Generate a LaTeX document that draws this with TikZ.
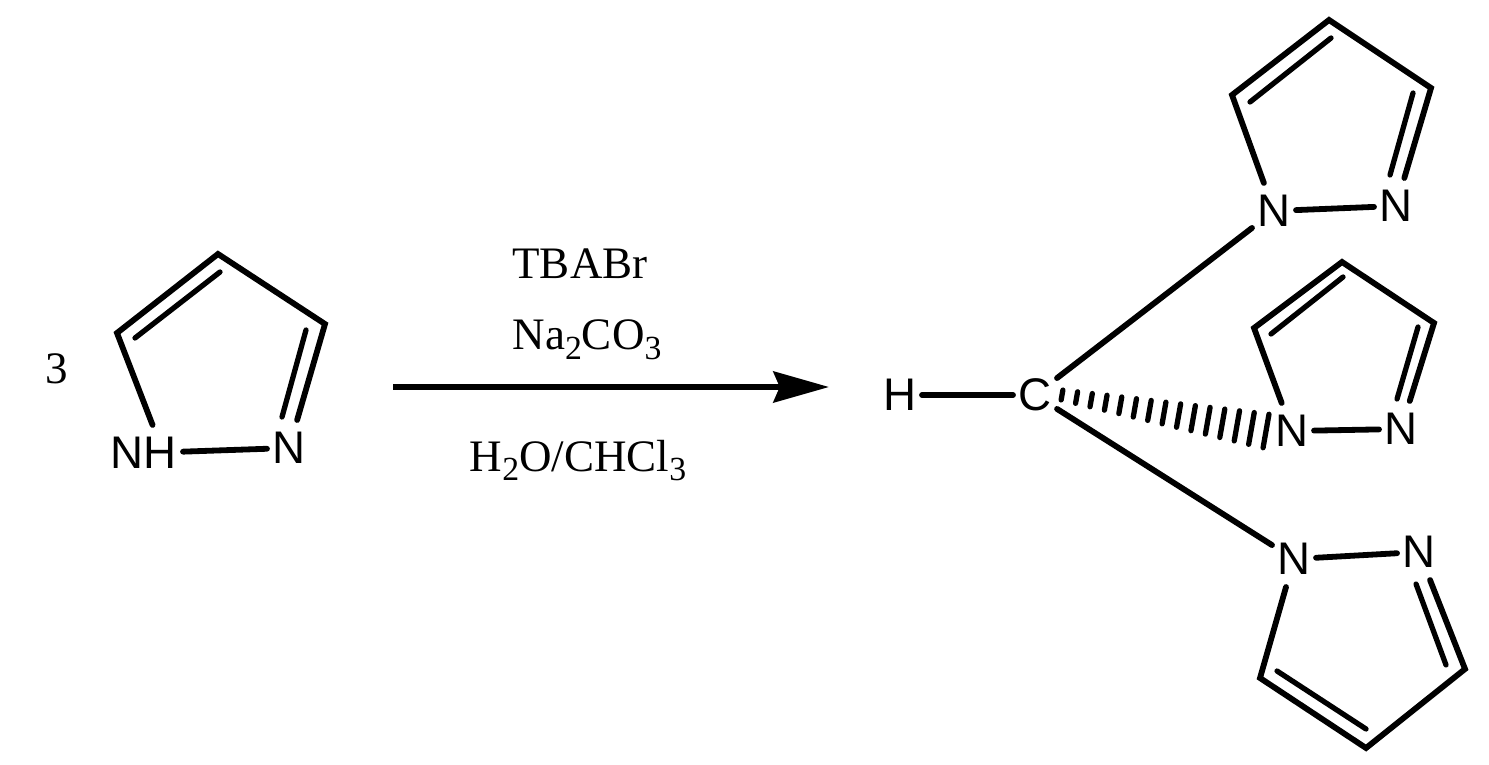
\documentclass[tikz,border=0pt]{standalone}
\usepackage{fontspec}
\setmainfont{Liberation Serif}
\newfontfamily\atomfont{Liberation Sans}
\usetikzlibrary{calc}
\usetikzlibrary{arrows.meta}
\newcommand{\chemsub}[1]{\raisebox{-2.6pt}{\fontsize{9.6}{10}\selectfont #1}}
\tikzset{
    atom/.style={font=\atomfont\fontsize{13}{13}\selectfont,inner sep=0,outer sep=0,
        minimum width=44*0.2845pt,minimum height=56*0.2845pt},
    agent/.style={font=\fontsize{12.8}{14}\selectfont,inner sep=0,anchor=base},
    bond/.style={line width=1.65pt,line cap=round,line join=miter},
    inner bond/.style={line width=1.5pt,line cap=round},
    hash stripe/.style={line width=1.5pt,line cap=round},
    reaction/.style={line width=1.7pt,-{Stealth[length=15.8pt,width=8.8pt,inset=1.8pt]}}
}
\begin{document}
\begin{tikzpicture}[x=0.01cm,y=-0.01cm]
    \useasboundingbox (0,0) rectangle (1489,764);
    \node[agent] (three) at (57,383) {3};
    \node[atom,minimum width=78*0.2845pt] (nh) at (144,453) {NH};
    \node[atom] (npy) at (289,448) {N};
    \coordinate (pya) at (117,333);
    \coordinate (pyb) at (218,254);
    \coordinate (pyc) at (325,324);
    \coordinate (pyd) at (220,272);
    \coordinate (pye) at (135,338);
    \coordinate (pyf) at (306,330);
    \coordinate (pyg) at (282,417);
    \draw[bond] (nh.73) -- (pya) -- (pyb) -- (pyc) -- (npy);
    \draw[bond] (nh) -- (npy);
    \draw[inner bond] (pyd) -- (pye);
    \draw[inner bond] (pyf) -- (pyg);
    \node[agent] (tbabr) at (580,278) {TBABr};
    \node[agent] (carb) at (587,350) {Na\chemsub{2}CO\chemsub{3}};
    \node[agent] (solv) at (578,471) {H\chemsub{2}O/CHCl\chemsub{3}};
    \coordinate (arrowa) at (393,387);
    \coordinate (arrowb) at (829,387);
    \draw[reaction] (arrowa) -- (arrowb);
    \node[atom] (h) at (900,395) {H};
    \node[atom] (c) at (1035,395) {C};
    \draw[bond] (h) -- (c);
    \node[atom] (na) at (1274,211) {N};
    \node[atom] (nb) at (1396,206) {N};
    \coordinate (upa) at (1232,95);
    \coordinate (upb) at (1329,20);
    \coordinate (upc) at (1431,88);
    \coordinate (upd) at (1331,38);
    \coordinate (upe) at (1250,102);
    \coordinate (upf) at (1413,93);
    \coordinate (upg) at (1390,175);
    \draw[bond] (na) -- (upa) -- (upb) -- (upc) -- (nb);
    \draw[bond] (na) -- (nb);
    \draw[inner bond] (upd) -- (upe);
    \draw[inner bond] (upf) -- (upg);
    \draw[bond] (c) -- (na);
    \node[atom] (nc) at (1292,431) {N};
    \node[atom] (nd) at (1401,429) {N};
    \coordinate (mida) at (1254,328);
    \coordinate (midb) at (1342,262);
    \coordinate (midc) at (1434,323);
    \coordinate (midd) at (1343,277);
    \coordinate (mide) at (1271,334);
    \coordinate (midf) at (1418,327);
    \coordinate (midg) at (1397,399);
    \draw[bond] (nc) -- (mida) -- (midb) -- (midc) -- (nd);
    \draw[bond] (nc) -- (nd);
    \draw[inner bond] (midd) -- (mide);
    \draw[inner bond] (midf) -- (midg);
    \coordinate (hasha) at (1062,395);
    \coordinate (hashb) at (1266,431);
    \foreach \i in {0,...,14} {
        \pgfmathsetmacro{\hashlen}{5+12*\i/14}
        \draw[hash stripe] ($(hasha)!\i/14!(hashb)$) ++(-80:\hashlen) -- ++(100:2*\hashlen);
    }
    \node[atom] (ne) at (1294,559) {N};
    \node[atom] (nf) at (1419,552) {N};
    \coordinate (lowa) at (1260,678);
    \coordinate (lowb) at (1366,748);
    \coordinate (lowc) at (1465,669);
    \coordinate (lowd) at (1366,729);
    \coordinate (lowe) at (1277,671);
    \coordinate (lowf) at (1446,665);
    \coordinate (lowg) at (1416,584);
    \draw[bond] (ne) -- (lowa) -- (lowb) -- (lowc) -- (nf);
    \draw[bond] (ne) -- (nf);
    \draw[inner bond] (lowd) -- (lowe);
    \draw[inner bond] (lowf) -- (lowg);
    \draw[bond] (c) -- (ne);
\end{tikzpicture}
\end{document}
